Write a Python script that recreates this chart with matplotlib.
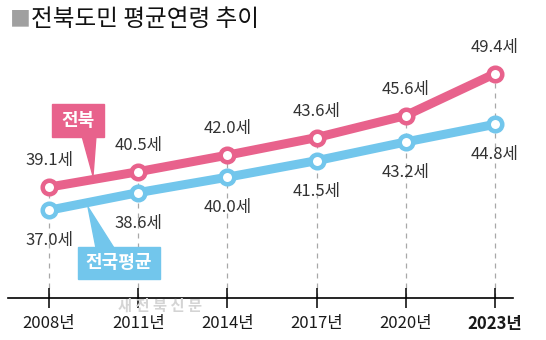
#!/usr/bin/env python3
import matplotlib
matplotlib.use('Agg')
import matplotlib.pyplot as plt
from matplotlib.patches import Polygon, Rectangle

plt.rcParams['font.family'] = ['Noto Sans CJK KR', 'DejaVu Sans']

years = [2008, 2011, 2014, 2017, 2020, 2023]
jeonbuk = [39.1, 40.5, 42.0, 43.6, 45.6, 49.4]
national = [37.0, 38.6, 40.0, 41.5, 43.2, 44.8]
year_labels = ['2008년', '2011년', '2014년', '2017년', '2020년', '2023년']

PINK = '#E8628C'
BLUE = '#72C6EC'
W, H = 546, 340


def fx(px):  # pixel -> figure fraction
    return px / W


def fy(py):
    return 1 - py / H


fig = plt.figure(figsize=(W / 100, H / 100), dpi=100)
ax = fig.add_axes([fx(8), fy(298), fx(513) - fx(8), fy(40) - fy(298)])
ax.set_xlim(2006.62, 2023.61)
ax.set_ylim(29.03, 52.46)

# dashed guides from the top point down to the axis
ax.vlines(years, 29.03, jeonbuk, colors='#a8a8a8', linestyles=(0, (4, 4)), lw=0.9, zorder=1)

for vals, col in [(jeonbuk, PINK), (national, BLUE)]:
    ax.plot(years, vals, '-', color=col, lw=6.5, solid_capstyle='round', zorder=3)
    ax.plot(years, vals, 'o', ms=9.75, mfc='white', mec=col, mew=3.25, zorder=4)

# value labels
for x, v in zip(years, jeonbuk):
    ax.annotate(f'{v:.1f}세', (x, v), xytext=(0, 19), textcoords='offset points',
                ha='center', va='center', fontsize=12, color='#333333')
for x, v in zip(years, national):
    ax.annotate(f'{v:.1f}세', (x, v), xytext=(0, -22), textcoords='offset points',
                ha='center', va='center', fontsize=12, color='#333333')

# axis
for s in ['top', 'right', 'left']:
    ax.spines[s].set_visible(False)
ax.spines['bottom'].set_linewidth(1.2)
ax.set_yticks([])
ax.set_xticks(years)
ax.set_xticklabels(year_labels, fontsize=12, color='#1a1a1a')
ax.get_xticklabels()[-1].set_fontweight('bold')
ax.tick_params(axis='x', direction='inout', length=15, width=1.1, pad=5)

# title
fig.text(fx(10), fy(19), '■', fontsize=15, color='#a0a0a0', va='center', ha='left')
fig.text(fx(31), fy(19), '전북도민 평균연령 추이', fontsize=17, color='#111111',
         va='center', ha='left', fontweight='medium')

# callout: 전북
fig.add_artist(Polygon([(fx(82), fy(136)), (fx(96), fy(136)), (fx(93), fy(176))],
                       closed=True, color=PINK, transform=fig.transFigure, zorder=2))
fig.add_artist(Rectangle((fx(52), fy(137)), fx(104) - fx(52), fy(104) - fy(137),
                         color=PINK, transform=fig.transFigure, zorder=2))
fig.text(fx(78), fy(120), '전북', fontsize=13, fontweight='bold', color='white',
         ha='center', va='center', zorder=3)

# callout: 전국평균
fig.add_artist(Polygon([(fx(88), fy(207)), (fx(96), fy(248)), (fx(114), fy(248))],
                       closed=True, color=BLUE, transform=fig.transFigure, zorder=2))
fig.add_artist(Rectangle((fx(78), fy(279)), fx(160) - fx(78), fy(247) - fy(279),
                         color=BLUE, transform=fig.transFigure, zorder=2))
fig.text(fx(119), fy(263), '전국평균', fontsize=13, fontweight='bold', color='white',
         ha='center', va='center', zorder=3)

# watermark
fig.text(fx(160), fy(306), '새 전 북 신 문', fontsize=11, fontweight='bold', color='#d4d4d4',
         ha='center', va='center', zorder=0)

fig.savefig('out.png', dpi=100)
